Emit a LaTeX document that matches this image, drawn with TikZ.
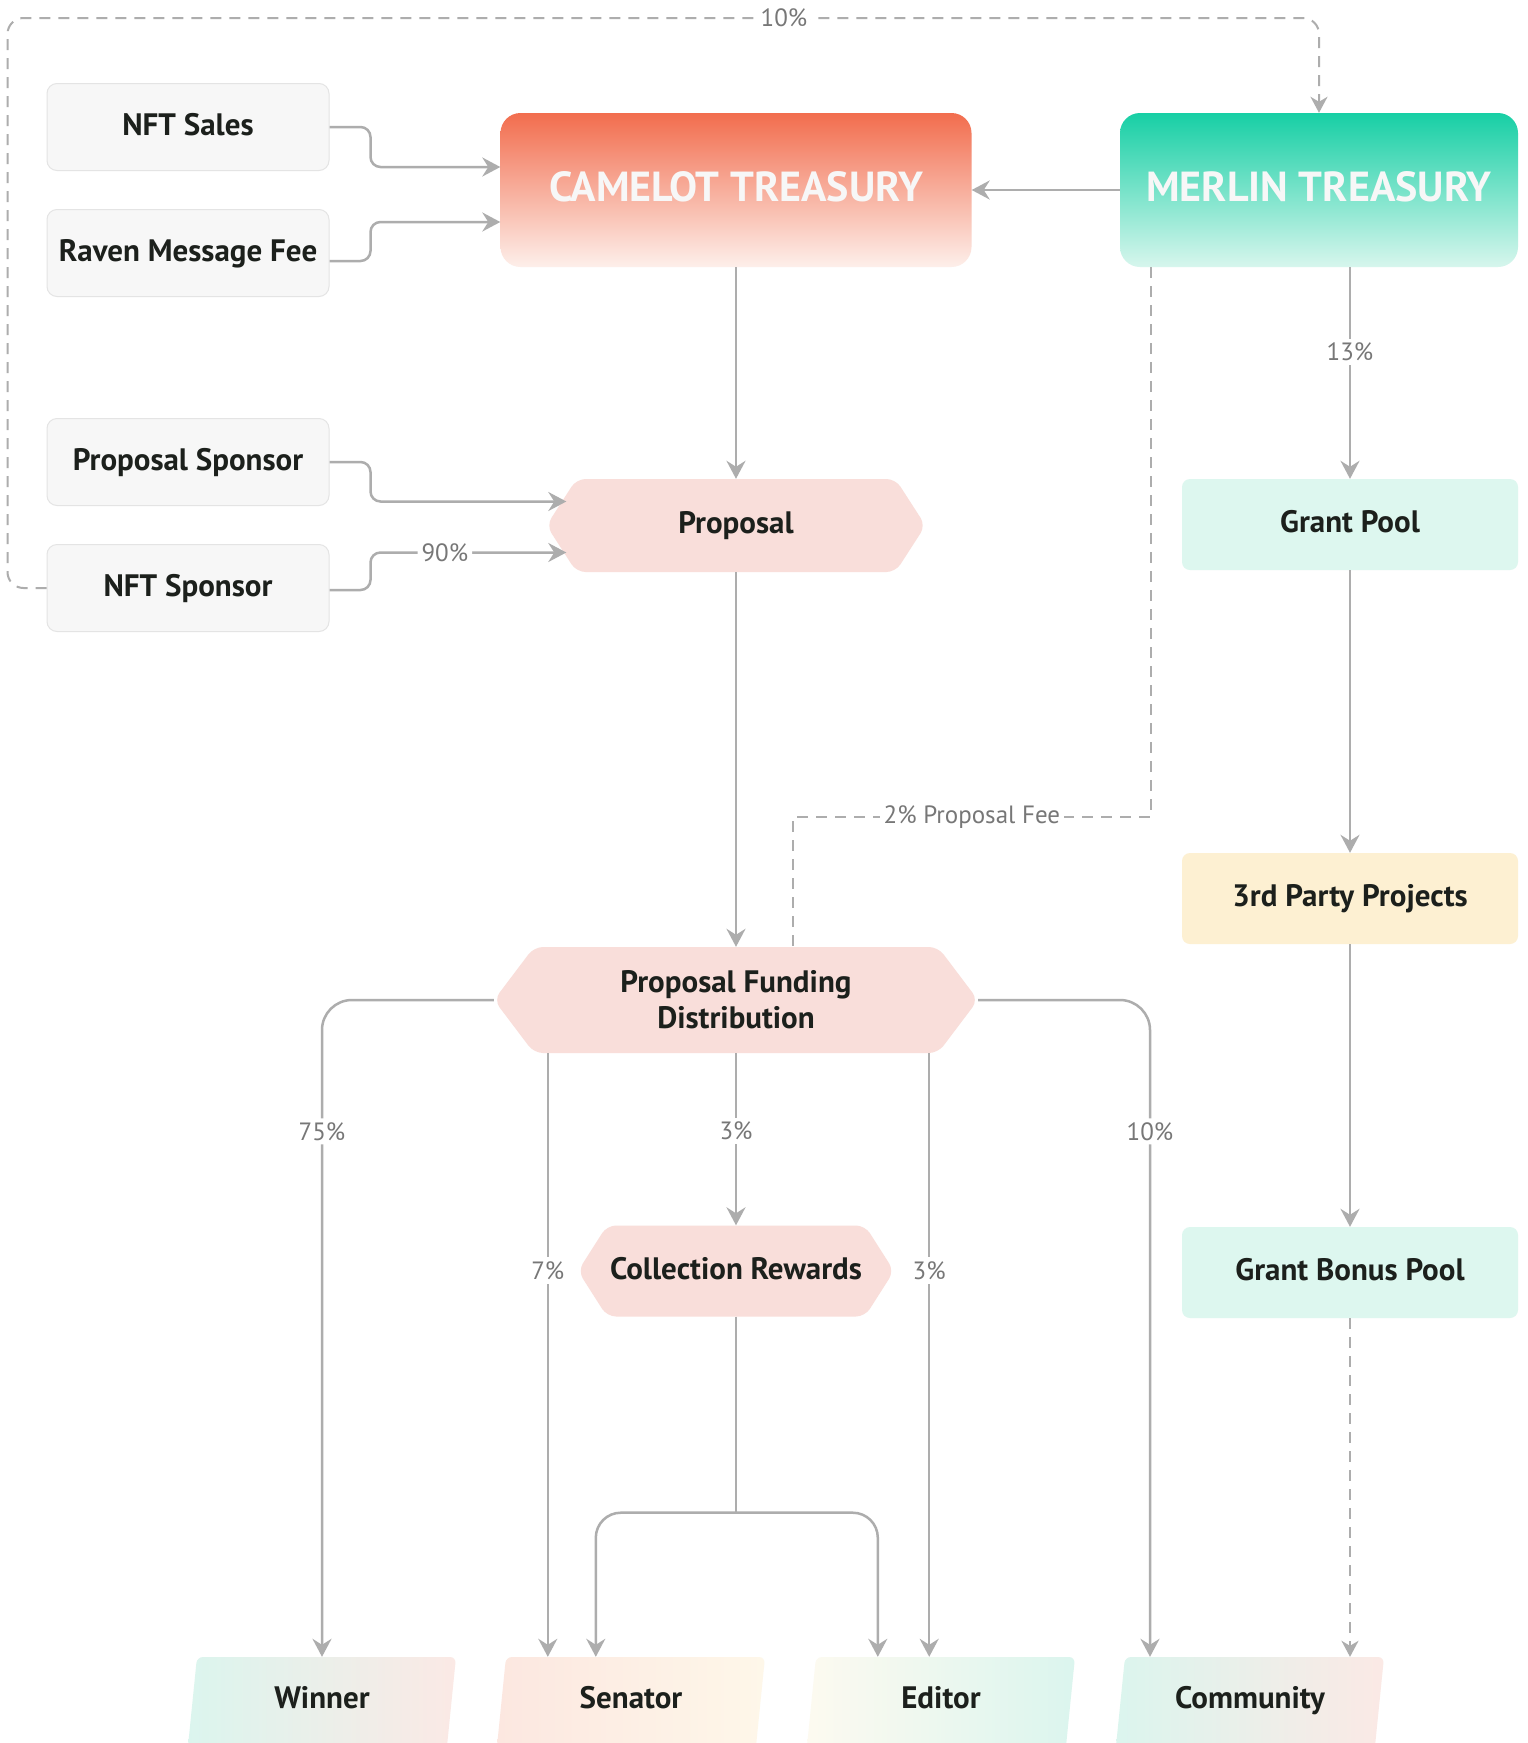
\documentclass[tikz,border=0pt]{standalone}
\usepackage{fontspec}
\setmainfont{PT Sans}
\usetikzlibrary{arrows.meta,calc}

\definecolor{linegray}{HTML}{ADADAD}
\definecolor{lblgray}{HTML}{777777}
\definecolor{ink}{HTML}{1C201C}
\definecolor{srcfill}{HTML}{F7F7F7}
\definecolor{srcdraw}{HTML}{E4E4E4}
\definecolor{camtop}{HTML}{F26D4E}
\definecolor{cambot}{HTML}{FDEFEA}
\definecolor{mertop}{HTML}{17CFA5}
\definecolor{merbot}{HTML}{D7F6ED}
\definecolor{hexpink}{HTML}{F9DEDA}
\definecolor{mint}{HTML}{DDF7EF}
\definecolor{cream}{HTML}{FDF0D2}
\definecolor{gmint}{HTML}{DBF5EE}
\definecolor{gpink}{HTML}{FBE9E5}
\definecolor{gpeach}{HTML}{FCE7E0}
\definecolor{gcream}{HTML}{FEF7E9}
\definecolor{gcreamlt}{HTML}{FDFAF0}

\def\hexslant{26pt}

\tikzset{
  nodefont/.style={font=\fontsize{31}{36}\selectfont\bfseries, text=ink, align=center},
  oneline/.style={text height=23pt, text depth=7pt},
  source/.style={nodefont, oneline, draw=srcdraw, line width=1pt, fill=srcfill,
    rounded corners=10pt, minimum width=282pt, minimum height=87pt},
  treasury/.style 2 args={font=\fontsize{42}{46}\selectfont\bfseries,
    text height=31pt, text depth=8.6pt,
    text=white!97!black, rounded corners=20pt, minimum height=154pt,
    top color=#1, bottom color=#2},
  hexslant/.code={\def\hexslant{#1}},
  hexa/.style={nodefont, inner sep=0pt,
    path picture={\fill[hexpink, rounded corners=9pt]
      (path picture bounding box.west)
      -- ([xshift=\hexslant]path picture bounding box.north west)
      -- ([xshift=-\hexslant]path picture bounding box.north east)
      -- (path picture bounding box.east)
      -- ([xshift=-\hexslant]path picture bounding box.south east)
      -- ([xshift=\hexslant]path picture bounding box.south west) -- cycle;}},
  pool/.style={nodefont, oneline, fill=#1, rounded corners=8pt,
    minimum width=336pt, minimum height=91pt},
  payee/.style 2 args={nodefont, oneline, inner sep=0pt, minimum width=268pt, minimum height=87pt,
    path picture={\shade[left color=#1, right color=#2, rounded corners=6pt]
      ([xshift=-1pt,yshift=-12pt]path picture bounding box.south west)
      -- ([xshift=9pt]path picture bounding box.north west)
      -- (path picture bounding box.north east)
      -- ([xshift=-10pt,yshift=-12pt]path picture bounding box.south east) -- cycle;}},
  lbl/.style={font=\fontsize{25}{28}\selectfont, text=lblgray, fill=white, inner sep=4pt},
  line/.style={draw=linegray, line width=2.5pt},
  conn/.style={line, -{Stealth[length=18pt, width=19pt, inset=6pt]}},
  dline/.style={draw=linegray, line width=2pt, dash pattern=on 11pt off 8pt},
  dconn/.style={dline, -{Stealth[length=16pt, width=17pt, inset=5pt]}},
}

\begin{document}
\begin{tikzpicture}[x=1pt, y=-1pt]
  \fill[white] (0,0) rectangle (1528,1743);
  \useasboundingbox (0,0) rectangle (1528,1743);

  % income sources
  \node[source] (nfts)  at (188,127) {NFT Sales};
  \node[source] (raven) at (188,253) {Raven Message Fee};
  \node[source] (psp)   at (188,462) {Proposal Sponsor};
  \node[source] (nftsp) at (188,588) {NFT Sponsor};

  % treasuries
  \node[treasury={camtop}{cambot}, minimum width=471pt] (camelot) at (736,190) {CAMELOT TREASURY};
  \node[treasury={mertop}{merbot}, minimum width=398pt] (merlin) at (1319,190) {MERLIN TREASURY};

  % proposal flow
  \node[hexa, oneline, hexslant=30pt, minimum width=379pt, minimum height=93pt] (prop) at (736,525.5) {Proposal};
  \node[hexa, hexslant=40pt, minimum width=484pt, minimum height=106pt] (pfd) at (736,1000)
    {Proposal Funding\\Distribution};
  \node[hexa, oneline, hexslant=29pt, minimum width=316pt, minimum height=91pt] (coll) at (736,1271) {Collection Rewards};

  % grant column
  \node[pool=mint]  (gp)    at (1350,524.5)  {Grant Pool};
  \node[pool=cream] (third) at (1350,898.5)  {3rd Party Projects};
  \node[pool=mint]  (gbp)   at (1350,1272.5) {Grant Bonus Pool};

  % recipients
  \node[payee={gmint}{gpink}]     (winner)    at (322,1700.5)  {Winner};
  \node[payee={gpeach}{gcream}]   (senator)   at (631,1700.5)  {Senator};
  \node[payee={gcreamlt}{gmint}]  (editor)    at (941,1700.5)  {Editor};
  \node[payee={gmint}{gpink}]     (community) at (1250,1700.5) {Community};

  % inflows to the Camelot treasury
  \draw[conn, rounded corners=10pt] (nfts.east) -- ++(41,0) |- ([yshift=23pt]camelot.west);
  \draw[conn, rounded corners=10pt] ([yshift=-8pt]raven.east) -- ++(41,0) |- ([yshift=-32pt]camelot.west);
  \draw[conn] (merlin.west) -- (camelot.east);

  % sponsors into the proposal
  \draw[conn, rounded corners=10pt] (psp.east) -- ++(41,0) |- ([xshift=20pt,yshift=24pt]prop.west);
  \draw[conn, rounded corners=10pt] ([yshift=-2pt]nftsp.east) -- ++(41,0)
    |- node[lbl, pos=0.69] {90\%} ([xshift=20pt,yshift=-27pt]prop.west);

  % NFT sponsor share to Merlin
  \draw[dconn, rounded corners=16pt] (nftsp.west) -- ++(-39,0) -- ++(0,-570)
    -| node[lbl, pos=0.296] {10\%} (merlin.north);

  % main spine
  \draw[conn] (camelot.south) -- (prop.north);
  \draw[conn] (prop.south) -- (pfd.north);

  % proposal fee from Merlin
  \draw[dline] ([xshift=31pt]merlin.south west) -- ++(0,550)
    -| node[lbl, pos=0.25] {2\% Proposal Fee} ([xshift=57pt]pfd.north);

  % grant column flow
  \draw[conn] (merlin.south -| gp.north) -- node[lbl, pos=0.4] {13\%} (gp.north);
  \draw[conn] (gp.south) -- (third.north);
  \draw[conn] (third.south) -- (gbp.north);
  \draw[dconn] (gbp.south) -- (gbp.south |- community.north);

  % distribution
  \draw[conn, rounded corners=30pt] (pfd.west) -| node[lbl, pos=0.6] {75\%} (winner.north);
  \draw[conn, rounded corners=30pt] (pfd.east) -| node[lbl, pos=0.6] {10\%} ([xshift=-100pt]community.north);
  \coordinate (d7) at ([xshift=54pt]pfd.south west);
  \coordinate (d3) at ([xshift=-49pt]pfd.south east);
  \draw[conn] (d7) -- node[lbl, pos=0.36] {7\%} (d7 |- senator.north);
  \draw[conn] (d3) -- node[lbl, pos=0.36] {3\%} (d3 |- editor.north);
  \draw[conn] (pfd.south) -- node[lbl, pos=0.45] {3\%} (coll.north);

  % collection rewards split
  \coordinate (split) at ([yshift=-196pt]coll.south);
  \draw[line] (coll.south) -- (split);
  \draw[conn, rounded corners=25pt] (split) -| ([xshift=99pt]senator.north west);
  \draw[conn, rounded corners=25pt] (split) -| ([xshift=71pt]editor.north west);
\end{tikzpicture}
\end{document}
